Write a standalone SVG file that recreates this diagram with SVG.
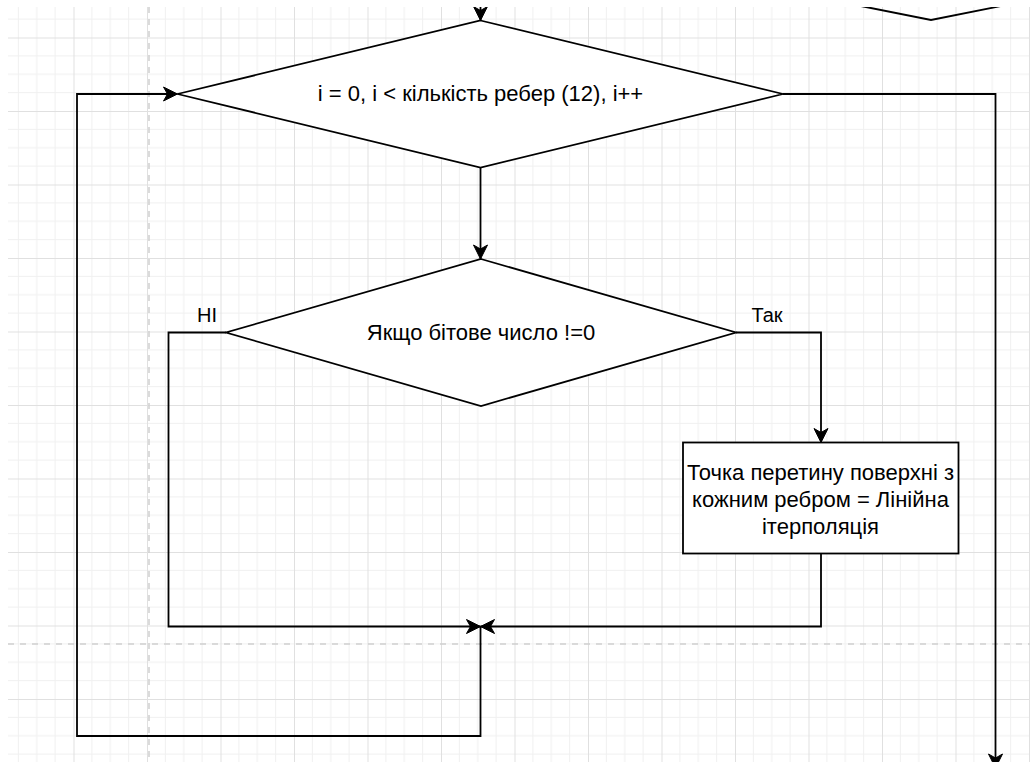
<svg xmlns="http://www.w3.org/2000/svg" width="1030" height="762" viewBox="0 0 1030 762">
  <style>
    .shape { fill: #ffffff; stroke: #000000; stroke-width: 1.8; }
    .edge { fill: none; stroke: #000000; stroke-width: 1.8; }
    .txt { font-family: "Liberation Sans", Arial, sans-serif; font-size: 22px; fill: #000000; text-anchor: middle; }
    .lbl { font-family: "Liberation Sans", Arial, sans-serif; font-size: 20px; fill: #000000; text-anchor: middle; }
    .minor { stroke: #f0f0f0; stroke-width: 1; }
    .major { stroke: #e0e0e0; stroke-width: 1; }
    .pagebreak { stroke: #d0d0d0; stroke-width: 1.5; stroke-dasharray: 6 6; fill: none; }
  </style>
  <defs>
    <pattern id="grid" patternUnits="userSpaceOnUse" x="0" y="37.5" width="73.5" height="73.5">
      <line class="minor" x1="18.375" y1="0" x2="18.375" y2="73.5"/>
      <line class="minor" x1="36.75" y1="0" x2="36.75" y2="73.5"/>
      <line class="minor" x1="55.125" y1="0" x2="55.125" y2="73.5"/>
      <line class="minor" x1="0" y1="18.375" x2="73.5" y2="18.375"/>
      <line class="minor" x1="0" y1="36.75" x2="73.5" y2="36.75"/>
      <line class="minor" x1="0" y1="55.125" x2="73.5" y2="55.125"/>
      <line class="major" x1="0.5" y1="0" x2="0.5" y2="73.5"/>
      <line class="major" x1="0" y1="0.5" x2="73.5" y2="0.5"/>
    </pattern>
    <marker id="arrow" markerUnits="userSpaceOnUse" markerWidth="16" markerHeight="16" viewBox="-15 -8 16 16" refX="0" refY="0" orient="auto">
      <path d="M0,0 L-14,-7 L-10,0 L-14,7 Z" fill="#000000" stroke="#000000" stroke-width="1"/>
    </marker>
  </defs>

  <rect x="0" y="0" width="1030" height="762" fill="#ffffff"/>
  <rect x="8" y="7" width="1022" height="755" fill="url(#grid)"/>
  <g id="page-breaks">
    <line class="pagebreak" x1="149" y1="7" x2="149" y2="762"/>
    <line class="pagebreak" x1="8" y1="644" x2="1030" y2="644"/>
  </g>

  <g id="connectors">
    <path class="edge" d="M480.5,0 L480.5,20.5" marker-end="url(#arrow)"/>
    <path class="edge" d="M480.5,167.5 L480.5,259" marker-end="url(#arrow)"/>
    <path class="edge" d="M783,94 L995.5,94 L995.5,768" marker-end="url(#arrow)"/>
    <path class="edge" d="M226,332.5 L168.5,332.5 L168.5,626.5 L480.5,626.5" marker-end="url(#arrow)"/>
    <path class="edge" d="M736,332.5 L821,332.5 L821,442.5" marker-end="url(#arrow)"/>
    <path class="edge" d="M821,553.5 L821,626.5 L480.5,626.5" marker-end="url(#arrow)"/>
    <path class="edge" d="M480.5,626.5 L480.5,736 L77,736 L77,94 L177.5,94" marker-end="url(#arrow)"/>
  </g>

  <g id="node-top-right">
    <polyline class="edge" points="831,0 931,20 1031,0"/>
  </g>

  <g id="node-loop">
    <polygon class="shape" points="480.5,20.5 783,94 480.5,167.5 177.5,94"/>
    <text class="txt" x="480.5" y="101">i = 0, i &lt; кількість ребер (12), i++</text>
  </g>

  <g id="node-condition">
    <polygon class="shape" points="481,259 736,332.5 481,406 226,332.5"/>
    <text class="txt" x="481" y="339.5">Якщо бітове число !=0</text>
  </g>

  <g id="node-interpolation">
    <rect class="shape" x="683" y="442.5" width="275.5" height="111"/>
    <text class="txt" x="820.5" y="479.5">Точка перетину поверхні з</text>
    <text class="txt" x="820.5" y="506.5">кожним ребром = Лінійна</text>
    <text class="txt" x="820.5" y="533.5">ітерполяція</text>
  </g>

  <g id="labels">
    <text class="lbl" x="207" y="322">НІ</text>
    <text class="lbl" x="767" y="322">Так</text>
  </g>

  <rect x="0" y="0" width="1030" height="7" fill="#ffffff"/>
  <rect x="0" y="0" width="8" height="762" fill="#ffffff"/>
</svg>
